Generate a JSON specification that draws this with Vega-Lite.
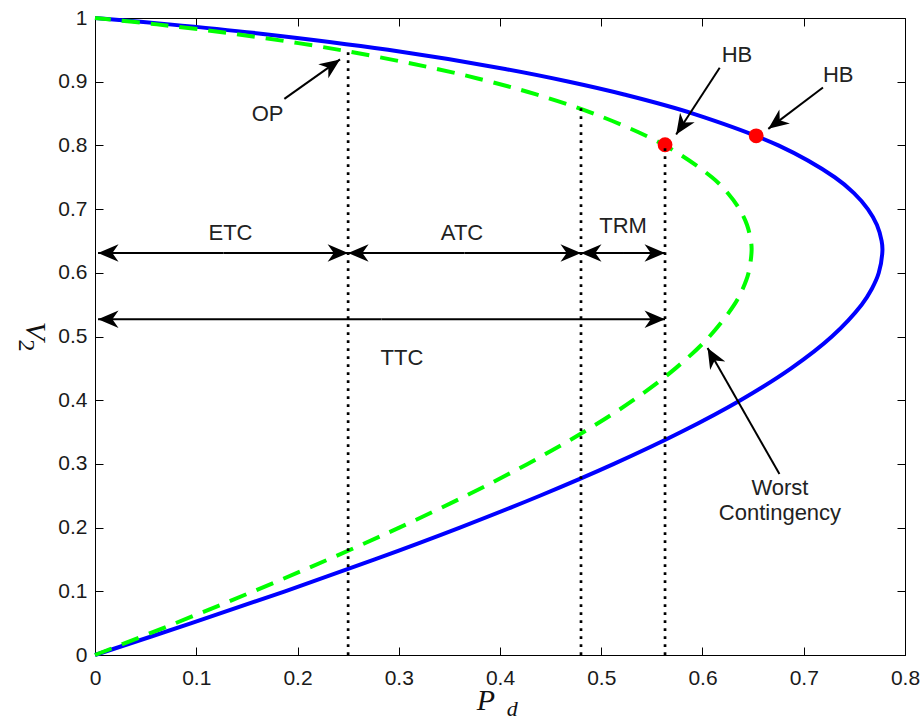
{
  "$schema": "https://vega.github.io/schema/vega-lite/v6.json",
  "width": 810,
  "height": 637,
  "autosize": {"type": "none"},
  "padding": {"left": 95, "top": 18, "right": 17, "bottom": 65},
  "background": "white",
  "config": {
    "view": {"stroke": "black", "strokeWidth": 1},
    "font": "Liberation Sans",
    "axis": {
      "grid": false,
      "domainColor": "black",
      "domainWidth": 1,
      "tickColor": "black",
      "tickWidth": 1,
      "tickSize": -8,
      "labelFont": "Liberation Sans",
      "labelFontSize": 21,
      "labelColor": "#1a1a1a",
      "labelFlush": false,
      "labelOverlap": false,
      "title": null
    }
  },
  "datasets": {
    "curves": [
      {"case": "base", "V": 0, "P": 0},
      {"case": "base", "V": 0.05, "P": 0.0953},
      {"case": "base", "V": 0.1, "P": 0.1877},
      {"case": "base", "V": 0.15, "P": 0.2763},
      {"case": "base", "V": 0.2, "P": 0.3604},
      {"case": "base", "V": 0.25, "P": 0.4394},
      {"case": "base", "V": 0.3, "P": 0.5125},
      {"case": "base", "V": 0.35, "P": 0.5788},
      {"case": "base", "V": 0.4, "P": 0.6375},
      {"case": "base", "V": 0.45, "P": 0.6875},
      {"case": "base", "V": 0.5, "P": 0.7278},
      {"case": "base", "V": 0.55, "P": 0.7572},
      {"case": "base", "V": 0.575, "P": 0.7673},
      {"case": "base", "V": 0.6, "P": 0.7741},
      {"case": "base", "V": 0.635, "P": 0.7777},
      {"case": "base", "V": 0.65, "P": 0.7769},
      {"case": "base", "V": 0.675, "P": 0.7723},
      {"case": "base", "V": 0.7, "P": 0.7633},
      {"case": "base", "V": 0.725, "P": 0.7496},
      {"case": "base", "V": 0.75, "P": 0.7306},
      {"case": "base", "V": 0.8, "P": 0.6749},
      {"case": "base", "V": 0.85, "P": 0.5906},
      {"case": "base", "V": 0.88, "P": 0.5226},
      {"case": "base", "V": 0.9, "P": 0.4682},
      {"case": "base", "V": 0.92, "P": 0.4051},
      {"case": "base", "V": 0.95, "P": 0.2894},
      {"case": "base", "V": 0.975, "P": 0.1659},
      {"case": "base", "V": 0.99, "P": 0.0734},
      {"case": "base", "V": 1, "P": 0},
      {"case": "worst", "V": 0, "P": 0},
      {"case": "worst", "V": 0.05, "P": 0.0795},
      {"case": "worst", "V": 0.1, "P": 0.1565},
      {"case": "worst", "V": 0.15, "P": 0.2304},
      {"case": "worst", "V": 0.2, "P": 0.3005},
      {"case": "worst", "V": 0.25, "P": 0.3664},
      {"case": "worst", "V": 0.3, "P": 0.4273},
      {"case": "worst", "V": 0.35, "P": 0.4826},
      {"case": "worst", "V": 0.4, "P": 0.5316},
      {"case": "worst", "V": 0.45, "P": 0.5733},
      {"case": "worst", "V": 0.5, "P": 0.6069},
      {"case": "worst", "V": 0.55, "P": 0.6314},
      {"case": "worst", "V": 0.575, "P": 0.6398},
      {"case": "worst", "V": 0.6, "P": 0.6455},
      {"case": "worst", "V": 0.635, "P": 0.6485},
      {"case": "worst", "V": 0.65, "P": 0.6478},
      {"case": "worst", "V": 0.675, "P": 0.644},
      {"case": "worst", "V": 0.7, "P": 0.6365},
      {"case": "worst", "V": 0.725, "P": 0.6251},
      {"case": "worst", "V": 0.75, "P": 0.6093},
      {"case": "worst", "V": 0.8, "P": 0.5628},
      {"case": "worst", "V": 0.85, "P": 0.4925},
      {"case": "worst", "V": 0.88, "P": 0.4358},
      {"case": "worst", "V": 0.9, "P": 0.3904},
      {"case": "worst", "V": 0.92, "P": 0.3378},
      {"case": "worst", "V": 0.95, "P": 0.2413},
      {"case": "worst", "V": 0.975, "P": 0.1383},
      {"case": "worst", "V": 0.99, "P": 0.0612},
      {"case": "worst", "V": 1, "P": 0}
    ],
    "hopf": [
      {"P": 0.653, "V": 0.815},
      {"P": 0.563, "V": 0.801}
    ],
    "cuts": [
      {"P": 0.25, "V": 0, "Vt": 0.95},
      {"P": 0.48, "V": 0, "Vt": 0.866},
      {"P": 0.563, "V": 0, "Vt": 0.8}
    ],
    "arrows": [
      {"P": 0.003, "V": 0.631, "P0": 0.127, "V0": 0.631},
      {"P": 0.25, "V": 0.631, "P0": 0.127, "V0": 0.631},
      {"P": 0.25, "V": 0.631, "P0": 0.365, "V0": 0.631},
      {"P": 0.48, "V": 0.631, "P0": 0.365, "V0": 0.631},
      {"P": 0.48, "V": 0.631, "P0": 0.5215, "V0": 0.631},
      {"P": 0.563, "V": 0.631, "P0": 0.5215, "V0": 0.631},
      {"P": 0.003, "V": 0.527, "P0": 0.283, "V0": 0.527},
      {"P": 0.563, "V": 0.527, "P0": 0.283, "V0": 0.527},
      {"P": 0.242, "V": 0.935, "P0": 0.187, "V0": 0.873},
      {"P": 0.574, "V": 0.817, "P0": 0.617, "V0": 0.922},
      {"P": 0.665, "V": 0.826, "P0": 0.719, "V0": 0.891},
      {"P": 0.605, "V": 0.482, "P0": 0.676, "V0": 0.284}
    ],
    "notes": [
      {"label": "OP", "P": 0.1704, "V": 0.85},
      {"label": "HB", "P": 0.634, "V": 0.942},
      {"label": "HB", "P": 0.734, "V": 0.911},
      {"label": "ETC", "P": 0.1338, "V": 0.662},
      {"label": "ATC", "P": 0.3625, "V": 0.662},
      {"label": "TRM", "P": 0.5215, "V": 0.6735},
      {"label": "TTC", "P": 0.3032, "V": 0.4655},
      {"label": "Worst", "P": 0.6765, "V": 0.2622},
      {"label": "Contingency", "P": 0.6765, "V": 0.2229}
    ],
    "titles": [
      {"label": "P", "P": 0.386, "V": -0.0863},
      {"label": "d", "P": 0.412, "V": -0.0958},
      {"label": "V", "P": -0.0593, "V": 0.5086},
      {"label": "2", "P": -0.0677, "V": 0.4859}
    ]
  },
  "layer": [
    {
      "encoding": {
        "x": {
          "field": "P",
          "type": "quantitative",
          "scale": {"domain": [0, 0.8], "nice": false, "zero": false},
          "axis": {"orient": "bottom", "values": [0, 0.1, 0.2, 0.3, 0.4, 0.5, 0.6, 0.7, 0.8], "format": "~g", "labelPadding": 20}
        },
        "y": {
          "field": "V",
          "type": "quantitative",
          "scale": {"domain": [0, 1], "nice": false, "zero": false},
          "axis": {"orient": "left", "values": [0, 0.1, 0.2, 0.3, 0.4, 0.5, 0.6, 0.7, 0.8, 0.9, 1], "format": "~g", "labelPadding": 16}
        }
      },
      "layer": [
        {
          "data": {"name": "curves"},
          "transform": [{"filter": "datum.case === 'base'"}],
          "mark": {"type": "line", "color": "#0000ff", "strokeWidth": 4, "interpolate": "catmull-rom", "strokeCap": "butt"},
          "encoding": {"order": {"field": "V", "type": "quantitative"}}
        },
        {
          "data": {"name": "curves"},
          "transform": [{"filter": "datum.case === 'worst'"}],
          "mark": {"type": "line", "color": "#00ff00", "strokeWidth": 4, "strokeDash": [18, 11], "interpolate": "catmull-rom", "strokeCap": "butt"},
          "encoding": {"order": {"field": "V", "type": "quantitative"}}
        },
        {
          "data": {"name": "hopf"},
          "mark": {"type": "point", "shape": "circle", "filled": true, "color": "#ff0000", "opacity": 1, "size": 220, "strokeWidth": 0}
        },
        {
          "data": {"name": "cuts"},
          "mark": {"type": "rule", "color": "black", "strokeWidth": 2.7, "strokeDash": [2.7, 5.3]},
          "encoding": {"y2": {"field": "Vt"}}
        },
        {
          "data": {"name": "arrows"},
          "mark": {"type": "rule", "color": "black", "strokeWidth": 2},
          "encoding": {"x2": {"field": "P0"}, "y2": {"field": "V0"}}
        },
        {
          "data": {"name": "arrows"},
          "transform": [
            {"calculate": "atan2((datum.V0 - datum.V) * height, (datum.P - datum.P0) / 0.8 * width) * 180 / PI", "as": "ang"}
          ],
          "mark": {"type": "point", "shape": "M0,0L-2,-0.85L-1.4,0L-2,0.85Z", "filled": true, "color": "black", "opacity": 1, "size": 420, "strokeWidth": 0},
          "encoding": {"angle": {"field": "ang", "type": "quantitative", "scale": null}}
        },
        {
          "data": {"name": "notes"},
          "mark": {"type": "text", "font": "Liberation Sans", "fontSize": 22, "color": "#222222", "align": "center", "baseline": "middle"},
          "encoding": {"text": {"field": "label"}}
        },
        {
          "data": {"name": "titles"},
          "transform": [{"filter": "datum.label === 'P'"}],
          "mark": {"type": "text", "font": "Liberation Serif", "fontStyle": "italic", "fontSize": 30, "color": "#111111", "align": "center", "baseline": "alphabetic"},
          "encoding": {"text": {"field": "label"}}
        },
        {
          "data": {"name": "titles"},
          "transform": [{"filter": "datum.label === 'd'"}],
          "mark": {"type": "text", "font": "Liberation Serif", "fontStyle": "italic", "fontSize": 22, "color": "#111111", "align": "center", "baseline": "alphabetic"},
          "encoding": {"text": {"field": "label"}}
        },
        {
          "data": {"name": "titles"},
          "transform": [{"filter": "datum.label === 'V'"}],
          "mark": {"type": "text", "font": "Liberation Serif", "fontStyle": "italic", "fontSize": 30, "color": "#111111", "align": "center", "baseline": "middle", "angle": 90},
          "encoding": {"text": {"field": "label"}}
        },
        {
          "data": {"name": "titles"},
          "transform": [{"filter": "datum.label === '2'"}],
          "mark": {"type": "text", "font": "Liberation Serif", "fontSize": 24, "color": "#111111", "align": "center", "baseline": "middle", "angle": 90},
          "encoding": {"text": {"field": "label"}}
        }
      ]
    },
    {
      "data": {"values": [{"P": 0, "V": 0}]},
      "mark": {"type": "point", "opacity": 0},
      "encoding": {
        "x": {
          "field": "P",
          "type": "quantitative",
          "scale": {"domain": [0, 0.8], "nice": false, "zero": false},
          "axis": {"orient": "top", "labels": false, "domain": false, "values": [0, 0.1, 0.2, 0.3, 0.4, 0.5, 0.6, 0.7, 0.8]}
        },
        "y": {
          "field": "V",
          "type": "quantitative",
          "scale": {"domain": [0, 1], "nice": false, "zero": false},
          "axis": {"orient": "right", "labels": false, "domain": false, "values": [0, 0.1, 0.2, 0.3, 0.4, 0.5, 0.6, 0.7, 0.8, 0.9, 1]}
        }
      }
    }
  ],
  "resolve": {"scale": {"x": "independent", "y": "independent"}}
}
